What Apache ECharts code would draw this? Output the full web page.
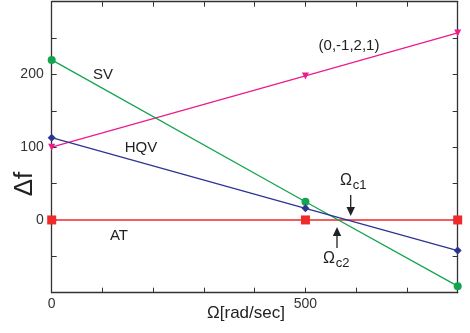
<!DOCTYPE html>
<html><head><meta charset="utf-8">
<script src="https://cdn.jsdelivr.net/npm/echarts@6/dist/echarts.min.js"></script>
<style>html,body{margin:0;padding:0;background:#fff}#c{width:470px;height:333px}</style>
</head><body><div id="c"></div>
<script>
const xValues = [0, 500, 800];
const seriesNames = ['(0,-1,2,1)', 'SV', 'HQV', 'AT'];
const magentaVals = [100, 198, 257];
const svVals = [220, 25, -91];
const hqvVals = [113, 16, -42];
const atVals = [0, 0, 0];
const xTickLabels = {0: '0', 500: '500'};
const yTickLabels = {0: '0', 100: '100', 200: '200'};
const xTitle = 'Ω[rad/sec]';
const yTitle = 'Δf';

const chart = echarts.init(document.getElementById('c'), null, {renderer: 'canvas'});
const pairs = v => xValues.map((x, i) => [x, v[i]]);
const axisLine = {show: true, onZero: false, lineStyle: {color: '#333', width: 1.3}};
const tick = {show: true, inside: true, length: 5, lineStyle: {color: '#333', width: 1}};
const font = 'Liberation Sans, Arial, sans-serif';
const txt = (t, x, y, size, extra) => ({type: 'text', x, y, z: 10, ...(extra || {}),
  style: {text: t, fill: '#222', font: size + 'px ' + font, align: 'center', verticalAlign: 'middle'}});

const option = {
  animation: false,
  grid: {left: 51.7, right: 12.3, top: 1.7, bottom: 40.3, containLabel: false, outerBoundsMode: 'none'},
  xAxis: [
    {type: 'value', min: 0, max: 800, interval: 100, position: 'bottom',
     axisLine, axisTick: tick, splitLine: {show: false},
     axisLabel: {color: '#333', fontSize: 14, fontFamily: font, margin: 4,
       formatter: v => xTickLabels[v] !== undefined ? xTickLabels[v] : ''}},
    {type: 'value', min: 0, max: 800, interval: 100, position: 'top',
     axisLine, axisTick: tick, axisLabel: {show: false}, splitLine: {show: false}}
  ],
  yAxis: [
    {type: 'value', min: -100, max: 300, interval: 50, position: 'left',
     axisLine, axisTick: tick, splitLine: {show: false},
     axisLabel: {color: '#333', fontSize: 14, fontFamily: font, margin: 8,
       formatter: v => yTickLabels[v] !== undefined ? yTickLabels[v] : ''}},
    {type: 'value', min: -100, max: 300, interval: 50, position: 'right',
     axisLine, axisTick: tick, axisLabel: {show: false}, splitLine: {show: false}}
  ],
  series: [
    {name: seriesNames[0], type: 'line', data: pairs(magentaVals), symbol: 'triangle', symbolRotate: 180, symbolSize: 7,
     lineStyle: {color: '#ec1c8c', width: 1.3}, itemStyle: {color: '#ec1c8c'}, z: 3},
    {name: seriesNames[1], type: 'line', data: pairs(svVals), symbol: 'circle', symbolSize: 8,
     lineStyle: {color: '#13a54e', width: 1.3}, itemStyle: {color: '#13a54e'}, z: 4},
    {name: seriesNames[2], type: 'line', data: pairs(hqvVals), symbol: 'diamond', symbolSize: 8,
     lineStyle: {color: '#2b3592', width: 1.3}, itemStyle: {color: '#2b3592'}, z: 5},
    {name: seriesNames[3], type: 'line', data: pairs(atVals), symbol: 'rect', symbolSize: 9,
     lineStyle: {color: '#ee2a2a', width: 1.5}, itemStyle: {color: '#ee2a2a'}, z: 2}
  ],
  graphic: [
    txt(xTitle, 246, 313, 17),
    txt(yTitle, 25, 184, 26, {rotation: Math.PI / 2}),
    txt(seriesNames[1], 103, 74.5, 15),
    txt(seriesNames[2], 141, 147.5, 15),
    txt(seriesNames[3], 119, 236, 15),
    txt(seriesNames[0], 349, 45.5, 15),
    txt('Ω', 346, 181, 16),
    txt('c1', 359.5, 185, 13),
    txt('Ω', 329, 259, 16),
    txt('c2', 342.5, 263, 13),
    {type: 'line', shape: {x1: 350.7, y1: 195, x2: 350.7, y2: 210}, style: {stroke: '#222', lineWidth: 1.3}},
    {type: 'polygon', shape: {points: [[346.5, 207], [355, 207], [350.7, 216]]}, style: {fill: '#222'}},
    {type: 'line', shape: {x1: 337, y1: 248, x2: 337, y2: 233}, style: {stroke: '#222', lineWidth: 1.3}},
    {type: 'polygon', shape: {points: [[332.8, 236], [341.2, 236], [337, 227]]}, style: {fill: '#222'}}
  ]
};
chart.setOption(option);
</script></body></html>
